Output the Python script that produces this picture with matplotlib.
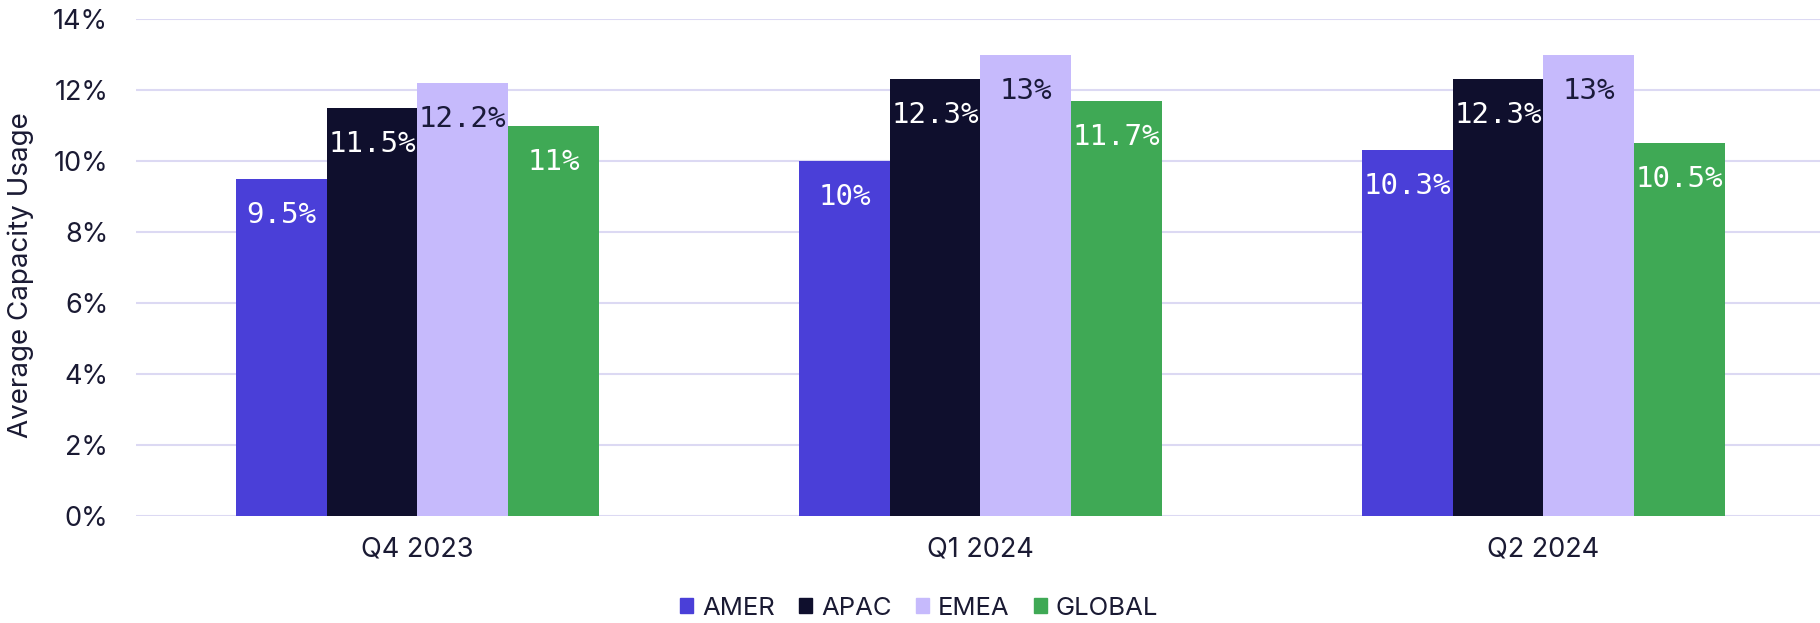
import numpy as np
import matplotlib.pyplot as plt
from matplotlib.patches import Patch

# --- data ---
quarters = ["Q4 2023", "Q1 2024", "Q2 2024"]
regions = ["AMER", "APAC", "EMEA", "GLOBAL"]
amer = [9.5, 10.0, 10.3]
apac = [11.5, 12.3, 12.3]
emea = [12.2, 13.0, 13.0]
global_ = [11.0, 11.7, 10.5]
labels_amer = ["9.5%", "10%", "10.3%"]
labels_apac = ["11.5%", "12.3%", "12.3%"]
labels_emea = ["12.2%", "13%", "13%"]
labels_global = ["11%", "11.7%", "10.5%"]

series = [amer, apac, emea, global_]
series_labels = [labels_amer, labels_apac, labels_emea, labels_global]
colors = ["#4a3fd8", "#0f0f2d", "#c6bafc", "#3fa955"]
label_colors = ["white", "white", "#1a1a3a", "white"]
text_col = "#1a1a33"
grid_col = "#dcd9f3"

plt.rcParams['font.family'] = ['Inter', 'DejaVu Sans']

fig = plt.figure(figsize=(18.2, 6.23), dpi=100)
ax = fig.add_axes([0.0747, 0.1717, 0.928, 0.7978])

x = np.arange(len(quarters))
w = 0.161
for i, (vals, labs) in enumerate(zip(series, series_labels)):
    pos = x + (i - 1.5) * w
    bars = ax.bar(pos, vals, width=w, color=colors[i], zorder=3, label=regions[i])
    for b, lab in zip(bars, labs):
        ax.annotate(lab, (b.get_x() + b.get_width() / 2, b.get_height()),
                    xytext=(0, -26), textcoords='offset points',
                    ha='center', va='center', fontsize=21,
                    family='DejaVu Sans Mono', color=label_colors[i], zorder=4)

ax.set_xlim(-0.5, 2.5)
ax.set_ylim(0, 14)
ax.set_yticks(np.arange(0, 15, 2))
ax.set_yticklabels([f"{v}%" for v in range(0, 15, 2)])
ax.set_xticks(x)
ax.set_xticklabels(quarters)
ax.tick_params(axis='both', length=0, labelsize=19.5, colors=text_col)
ax.tick_params(axis='y', pad=20)
ax.tick_params(axis='x', pad=15)
ax.grid(axis='y', color=grid_col, lw=1.5, zorder=0)
for s in ax.spines.values():
    s.set_visible(False)

fig.text(0.0115, 0.558, "Average Capacity Usage", rotation=90, ha='center', va='center',
         fontsize=20, color=text_col)

handles = [Patch(color=c, label=r) for c, r in zip(colors, regions)]
fig.legend(handles=handles, loc='center', bbox_to_anchor=(0.505, 0.024), ncol=4,
           frameon=False, fontsize=18.5, handlelength=0.5, handleheight=0.5,
           handletextpad=0.35, columnspacing=0.95, labelcolor=text_col)

fig.savefig("out.png", dpi=100)
